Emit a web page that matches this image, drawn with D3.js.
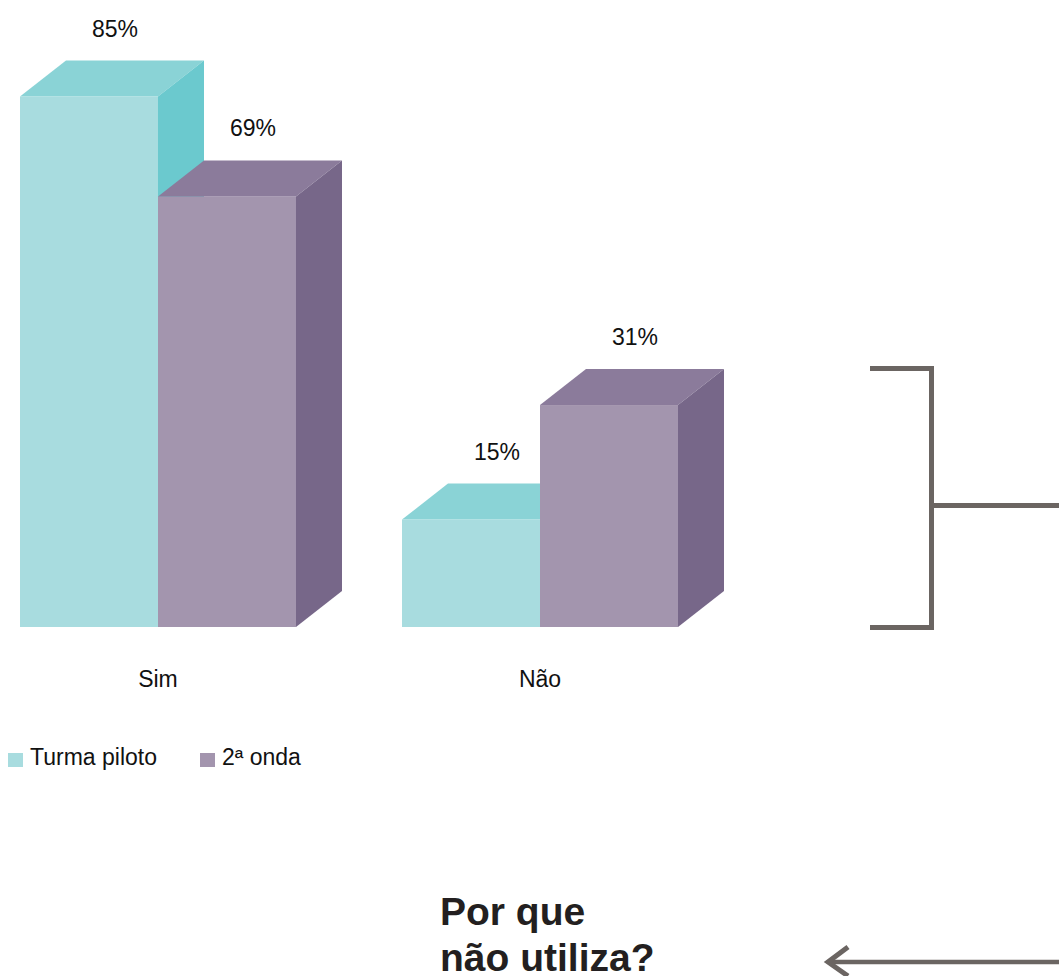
<!DOCTYPE html>
<html>
<head>
<meta charset="utf-8">
<script src="https://cdn.jsdelivr.net/npm/d3@7"></script>
<style>
  html, body { margin: 0; padding: 0; background: #ffffff; }
  svg { display: block; }
  text { font-family: "Liberation Sans", Arial, Helvetica, sans-serif; }
</style>
</head>
<body>
<svg id="chart" width="1059" height="976"></svg>
<script>
// ---- data ----
const categories = ["Sim", "Não"];
const seriesNames = ["Turma piloto", "2ª onda"];
const turmaPiloto = [85, 15];
const segundaOnda = [69, 31];
const valueLabels = ["85%", "15%", "69%", "31%"]; // piloto Sim, piloto Não, onda Sim, onda Não
const questionLines = ["Por que", "não utiliza?"];

// ---- styles / layout ----
const faceColors = [
  { front: "#a8dcdf", top: "#8ad3d6", side: "#6bc9ce" },
  { front: "#a395ae", top: "#8b7b9b", side: "#776789" }
];
const baseY = 627;
const depthX = 46, depthY = 36;
// pixels per percentage point in the reference drawing, per category
const pxPerPct = { "Sim": 6.24, "Não": 7.16 };
const lineColor = "#6b6562";
const fontSize = 23;

const svg = d3.select("#chart");

const x0 = d3.scaleBand().domain(categories).range([20, 678]).paddingInner(0.2775).paddingOuter(0);
const x1 = d3.scaleBand().domain(seriesNames).range([0, x0.bandwidth()]);
const yScales = {};
categories.forEach(c => {
  yScales[c] = d3.scaleLinear().domain([0, 100]).range([baseY, baseY - 100 * pxPerPct[c]]);
});

const seriesValues = [turmaPiloto, segundaOnda];
const bars = [];
seriesNames.forEach((s, si) => {
  categories.forEach((c, ci) => {
    bars.push({ s, si, c, ci, v: seriesValues[si][ci], label: valueLabels[si * 2 + ci] });
  });
});

const g = svg.append("g");
const barG = g.selectAll("g.bar").data(bars).join("g").attr("class", "bar");

function geom(d) {
  const xl = x0(d.c) + x1(d.s);
  const xr = xl + x1.bandwidth();
  const yt = yScales[d.c](d.v);
  return { xl, xr, yt };
}

barG.append("rect")
  .attr("x", d => geom(d).xl)
  .attr("y", d => geom(d).yt)
  .attr("width", x1.bandwidth())
  .attr("height", d => baseY - geom(d).yt)
  .attr("fill", d => faceColors[d.si].front);

barG.append("polygon")
  .attr("points", d => {
    const { xl, xr, yt } = geom(d);
    return [[xl, yt], [xl + depthX, yt - depthY], [xr + depthX, yt - depthY], [xr, yt]].join(" ");
  })
  .attr("fill", d => faceColors[d.si].top);

barG.append("polygon")
  .attr("points", d => {
    const { xr, yt } = geom(d);
    return [[xr, yt], [xr + depthX, yt - depthY], [xr + depthX, baseY - depthY], [xr, baseY]].join(" ");
  })
  .attr("fill", d => faceColors[d.si].side);

barG.append("text")
  .attr("x", d => geom(d).xl + x1.bandwidth() / 2 + 26)
  .attr("y", d => geom(d).yt - depthY - 24)
  .attr("text-anchor", "middle")
  .attr("font-size", fontSize)
  .attr("fill", "#111")
  .text(d => d.label);

// category labels
g.selectAll("text.cat").data(categories).join("text")
  .attr("class", "cat")
  .attr("x", d => x0(d) + x0.bandwidth() / 2)
  .attr("y", 687)
  .attr("text-anchor", "middle")
  .attr("font-size", fontSize)
  .attr("fill", "#111")
  .text(d => d);

// legend
const legendX = [8, 200];
const leg = g.selectAll("g.leg").data(seriesNames).join("g").attr("class", "leg")
  .attr("transform", (d, i) => `translate(${legendX[i]},753)`);
leg.append("rect").attr("width", 15).attr("height", 14).attr("fill", (d, i) => faceColors[i].front);
leg.append("text").attr("x", 22).attr("y", 12).attr("font-size", fontSize).attr("fill", "#111").text(d => d);

// bracket
g.append("path")
  .attr("d", "M870,368.5 H931.5 V627.5 H870 M931.5,505.5 H1059")
  .attr("fill", "none").attr("stroke", lineColor).attr("stroke-width", 5);

// question text
g.selectAll("text.q").data(questionLines).join("text")
  .attr("class", "q")
  .attr("x", 440)
  .attr("y", (d, i) => 925 + i * 46)
  .attr("font-size", 39)
  .attr("font-weight", "bold")
  .attr("fill", "#231f20")
  .text(d => d);

// arrow
g.append("path")
  .attr("d", "M1059,962 H828")
  .attr("fill", "none").attr("stroke", lineColor).attr("stroke-width", 4.5);
g.append("path")
  .attr("d", "M848,947 L828,962 L848,976")
  .attr("fill", "none").attr("stroke", lineColor).attr("stroke-width", 5);
</script>
</body>
</html>
